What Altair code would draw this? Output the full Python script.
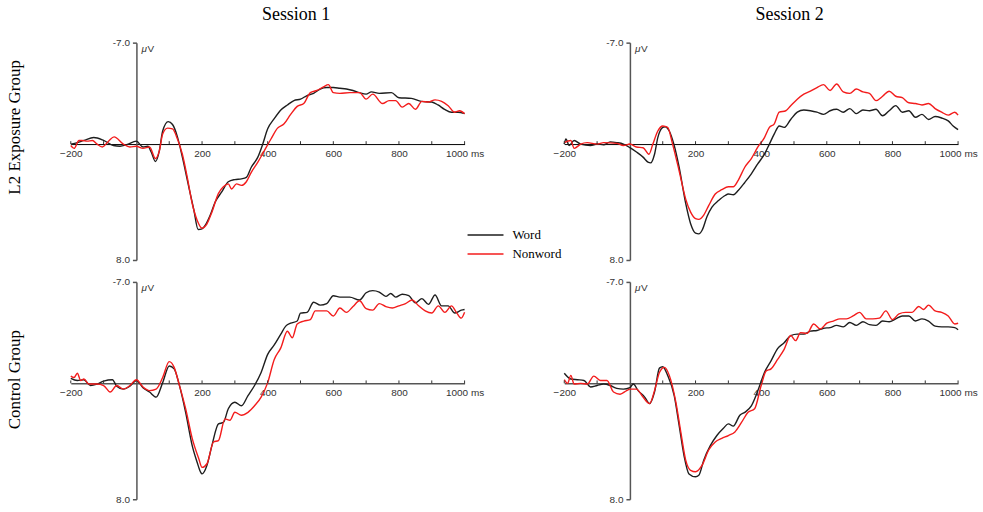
import altair as alt
import pandas as pd

# ERP grand averages: time (ms) vs amplitude (µV), negative plotted up
GROUPS = ["L2 Exposure Group", "Control Group"]
SESSIONS = ["Session 1", "Session 2"]
CONDITIONS = ["Word", "Nonword"]
COLORS = ["#1e1e1e", "#f31c1c"]

X_LABELS = [-200, 200, 400, 600, 800, 1000]
X_TICKS = [-200, -100, 100, 200, 300, 400, 500, 600, 700, 800, 900, 1000]
Y_LABELS = [-7.0, 8.0]
TICK_LEN_UV = -0.2  # tick marks rise slightly above the zero line

L2_S1_WORD = [
    (-200, 0.0), (-180, -0.1), (-160, -0.25), (-130, -0.45), (-100, -0.25), (-70, 0.1),
    (-50, 0.15), (-30, 0.05), (0, -0.2), (20, 0.2), (35, 0.15), (45, 0.55), (58, 1.2),
    (70, 0.45), (80, -0.9), (97, -1.55), (110, -1.35), (125, -0.5), (140, 0.9), (160, 3.0),
    (175, 4.55), (188, 5.9), (200, 5.85), (210, 5.6), (225, 4.9), (240, 4.0), (260, 3.3),
    (280, 2.6), (300, 2.45), (320, 2.4), (335, 2.3), (350, 1.6), (370, 0.9), (385, 0.0),
    (400, -1.05), (420, -1.75), (440, -2.35), (460, -2.7), (480, -3.0), (500, -3.1),
    (520, -3.35), (540, -3.5), (560, -3.8), (580, -3.9), (600, -3.9), (620, -3.85),
    (640, -3.8), (660, -3.7), (680, -3.55), (700, -3.45), (716, -3.6), (740, -3.5),
    (777, -3.55), (800, -3.2), (838, -3.15), (868, -2.95), (900, -2.9), (919, -2.7),
    (939, -2.4), (960, -2.2), (980, -2.2), (1000, -2.1),
]
L2_S1_NONWORD = [
    (-200, 0.1), (-190, 0.3), (-175, -0.25), (-165, -0.25), (-150, -0.2), (-134, -0.25),
    (-120, 0.0), (-104, 0.2), (-85, -0.2), (-68, -0.5), (-40, 0.0), (-20, 0.2), (0, 0.15),
    (20, 0.3), (40, 0.2), (58, 1.0), (70, 0.45), (80, -0.7), (95, -1.1), (110, -1.05),
    (125, -0.35), (140, 0.7), (155, 2.3), (170, 4.1), (185, 5.25), (200, 5.8), (215, 5.5),
    (230, 4.7), (250, 3.4), (265, 2.95), (280, 2.75), (290, 3.1), (305, 2.75), (320, 2.85),
    (335, 2.6), (350, 1.95), (370, 1.25), (390, 0.45), (410, -0.35), (430, -1.1),
    (450, -1.4), (470, -2.05), (490, -2.6), (510, -2.8), (530, -3.55), (550, -3.7),
    (570, -3.95), (585, -4.1), (600, -3.55), (620, -3.5), (650, -3.55), (680, -3.55),
    (700, -3.1), (720, -3.45), (750, -2.8), (770, -3.0), (790, -3.0), (810, -2.55),
    (830, -2.8), (850, -2.4), (870, -2.95), (890, -2.9), (910, -3.05), (930, -2.95),
    (950, -2.65), (970, -2.2), (985, -2.3), (1000, -2.1),
]
L2_S2_WORD = [
    (-200, 0.0), (-195, -0.35), (-185, 0.1), (-170, -0.25), (-150, 0.0), (-120, 0.1),
    (-100, 0.0), (-80, 0.05), (-60, -0.15), (-40, -0.1), (-20, 0.0), (0, 0.25), (20, 0.55),
    (40, 0.9), (55, 1.25), (63, 1.3), (75, 0.7), (85, -0.45), (100, -1.15), (107, -1.2),
    (120, -0.9), (135, 0.1), (150, 1.6), (170, 4.1), (185, 5.5), (200, 6.15), (210, 6.2),
    (220, 5.95), (235, 5.0), (250, 4.35), (270, 3.9), (290, 3.55), (300, 3.45), (315, 3.5),
    (330, 3.2), (350, 2.65), (370, 2.05), (390, 1.35), (410, 0.7), (425, 0.0), (440, -0.7),
    (455, -1.25), (470, -1.15), (490, -1.7), (510, -2.2), (530, -2.35), (550, -2.3),
    (570, -2.2), (590, -2.05), (610, -2.3), (630, -2.4), (650, -2.2), (670, -2.45),
    (690, -2.1), (710, -2.35), (730, -2.3), (750, -2.4), (770, -1.95), (790, -2.3),
    (810, -2.65), (830, -2.2), (850, -2.3), (870, -1.85), (890, -2.05), (910, -1.7),
    (930, -1.9), (950, -1.8), (970, -1.6), (985, -1.25), (1000, -1.0),
]
L2_S2_NONWORD = [
    (-200, -0.1), (-180, -0.25), (-170, 0.3), (-150, 0.0), (-130, -0.1), (-100, 0.0),
    (-80, -0.1), (-40, -0.05), (-20, 0.1), (0, 0.0), (20, 0.2), (40, 0.25), (58, 0.7),
    (70, 0.0), (85, -0.9), (100, -1.25), (115, -1.15), (130, 0.0), (150, 1.85), (170, 3.8),
    (185, 4.7), (200, 5.15), (210, 5.2), (225, 4.9), (240, 4.25), (260, 3.45), (280, 3.15),
    (300, 2.95), (315, 2.95), (330, 2.5), (350, 1.6), (370, 1.0), (390, 0.2), (410, -0.45),
    (425, -1.15), (440, -1.4), (455, -2.2), (475, -2.3), (490, -2.65), (510, -3.1),
    (530, -3.45), (550, -3.65), (570, -3.9), (590, -4.1), (610, -3.7), (630, -4.15),
    (650, -3.6), (670, -3.5), (690, -3.8), (710, -3.6), (730, -3.5), (750, -3.0),
    (770, -3.3), (790, -3.65), (810, -3.3), (830, -3.2), (850, -2.85), (870, -2.8),
    (890, -2.7), (910, -2.8), (930, -2.45), (950, -2.2), (970, -2.0), (990, -2.2),
    (1000, -2.0),
]
CT_S1_WORD = [
    (-200, -0.35), (-180, -0.2), (-160, -0.25), (-140, 0.15), (-120, 0.05), (-100, -0.15),
    (-73, -0.25), (-60, 0.2), (-40, 0.4), (-20, 0.2), (0, -0.2), (20, 0.3), (40, 0.6),
    (60, 0.95), (80, -0.05), (100, -1.2), (115, -1.0), (130, 0.05), (150, 2.0), (170, 4.3),
    (185, 5.45), (195, 6.1), (200, 6.25), (215, 5.65), (230, 4.3), (250, 2.8), (265, 2.7),
    (280, 1.75), (300, 1.3), (320, 1.55), (340, 0.85), (360, 0.15), (380, -0.75),
    (400, -2.0), (420, -2.65), (440, -3.4), (455, -3.95), (470, -4.15), (490, -4.3),
    (500, -4.85), (520, -4.9), (540, -5.6), (560, -5.4), (580, -5.5), (600, -6.05),
    (620, -5.95), (650, -5.95), (680, -5.75), (700, -6.25), (720, -6.4), (740, -6.3),
    (760, -6.0), (775, -6.2), (790, -5.95), (810, -6.15), (830, -6.05), (850, -5.55),
    (870, -5.85), (890, -5.45), (910, -6.1), (930, -5.35), (950, -5.35), (970, -4.85),
    (990, -5.05), (1000, -5.1),
]
CT_S1_NONWORD = [
    (-200, -0.5), (-190, -0.4), (-180, -0.7), (-170, -0.2), (-160, -0.3), (-145, 0.05),
    (-120, 0.05), (-100, 0.15), (-80, 0.6), (-60, 0.15), (-40, 0.4), (-20, 0.15),
    (0, -0.25), (20, 0.25), (40, 0.5), (60, 0.4), (80, -0.4), (100, -1.5), (115, -1.1),
    (130, 0.05), (150, 1.75), (170, 3.8), (190, 5.2), (200, 5.8), (215, 5.55), (235, 4.05),
    (250, 3.95), (270, 2.45), (285, 2.55), (300, 2.0), (320, 2.2), (340, 2.0), (360, 1.55),
    (380, 0.95), (400, -0.05), (420, -1.65), (440, -2.45), (460, -3.6), (475, -3.15),
    (490, -4.1), (510, -4.3), (530, -4.4), (545, -5.0), (560, -5.0), (580, -5.0),
    (600, -4.65), (620, -5.2), (640, -4.9), (660, -5.3), (680, -5.7), (700, -5.15),
    (720, -5.05), (740, -5.5), (760, -5.3), (780, -5.2), (800, -5.35), (820, -5.5),
    (840, -5.75), (860, -5.35), (880, -5.0), (900, -4.85), (920, -5.35), (940, -4.9),
    (960, -5.35), (975, -4.9), (990, -4.5), (1000, -4.9),
]
CT_S2_WORD = [
    (-200, -0.7), (-180, -0.3), (-160, -0.25), (-140, -0.2), (-120, 0.25), (-100, 0.15),
    (-80, 0.05), (-60, 0.15), (-40, 0.35), (-20, 0.4), (0, 0.3), (10, 0.05), (25, 0.5),
    (45, 0.95), (60, 1.4), (75, 0.6), (90, -1.05), (100, -1.15), (115, -0.55), (135, 0.85),
    (150, 2.9), (165, 5.0), (180, 6.25), (200, 6.45), (210, 6.35), (225, 5.3), (245, 4.3),
    (265, 3.6), (285, 3.1), (300, 2.8), (315, 2.95), (335, 2.2), (350, 2.0), (370, 1.55),
    (390, 0.5), (410, -0.75), (430, -1.55), (450, -2.4), (470, -2.8), (490, -3.3),
    (510, -3.4), (530, -3.4), (550, -3.6), (570, -3.65), (590, -3.8), (610, -3.85),
    (630, -4.0), (650, -3.9), (670, -4.2), (690, -4.0), (710, -4.25), (730, -4.05),
    (750, -4.0), (770, -4.3), (790, -4.25), (810, -4.45), (830, -4.65), (850, -4.65),
    (870, -4.3), (890, -4.45), (910, -4.3), (930, -3.95), (950, -3.9), (970, -3.9),
    (990, -3.85), (1000, -3.7),
]
CT_S2_NONWORD = [
    (-200, -0.25), (-190, 0.0), (-180, -0.55), (-170, 0.05), (-150, 0.0), (-130, 0.05),
    (-110, -0.5), (-90, -0.2), (-70, -0.2), (-50, 0.6), (-30, 0.75), (-10, 0.5), (0, 0.4),
    (20, 0.4), (40, 0.95), (60, 1.4), (75, 0.5), (90, -0.75), (105, -1.1), (120, -0.55),
    (140, 1.3), (155, 3.35), (170, 5.3), (185, 6.0), (200, 6.1), (220, 5.65), (240, 4.6),
    (260, 4.05), (280, 3.8), (300, 3.6), (320, 3.35), (340, 2.7), (360, 2.0), (380, 1.75),
    (400, 0.15), (415, -0.85), (430, -1.0), (450, -1.65), (470, -2.35), (490, -3.3),
    (505, -2.95), (520, -3.5), (540, -3.45), (560, -4.1), (580, -3.75), (600, -4.15),
    (620, -4.3), (640, -4.45), (660, -4.45), (680, -4.65), (700, -4.9), (720, -4.45),
    (740, -4.45), (760, -4.5), (780, -5.0), (800, -4.4), (820, -4.8), (840, -4.9),
    (860, -4.9), (880, -5.3), (895, -5.1), (910, -5.4), (930, -5.0), (950, -4.9),
    (970, -4.65), (990, -4.1), (1000, -4.15),
]

SERIES = {
    ("L2 Exposure Group", "Session 1", "Word"): L2_S1_WORD,
    ("L2 Exposure Group", "Session 1", "Nonword"): L2_S1_NONWORD,
    ("L2 Exposure Group", "Session 2", "Word"): L2_S2_WORD,
    ("L2 Exposure Group", "Session 2", "Nonword"): L2_S2_NONWORD,
    ("Control Group", "Session 1", "Word"): CT_S1_WORD,
    ("Control Group", "Session 1", "Nonword"): CT_S1_NONWORD,
    ("Control Group", "Session 2", "Word"): CT_S2_WORD,
    ("Control Group", "Session 2", "Nonword"): CT_S2_NONWORD,
}

rows = []
for (group, session, cond), pts in SERIES.items():
    for t, v in pts:
        rows.append({"group": group, "session": session, "cond": cond, "t": t, "v": v})
df = pd.DataFrame(rows)
ticks_df = pd.DataFrame({"t": X_TICKS, "v": [0.0] * len(X_TICKS), "v2": [TICK_LEN_UV] * len(X_TICKS)})

PANEL_W, PANEL_H = 395, 218
T_MIN, T_MAX = -200, 1000
V_MIN, V_MAX = -7.0, 8.0
ZERO_Y = PANEL_H * (0 - V_MIN) / (V_MAX - V_MIN)
ZERO_X = PANEL_W * (0 - T_MIN) / (T_MAX - T_MIN)

SANS = "Liberation Sans"
SERIF = "Liberation Serif"

x_scale = alt.Scale(domain=[T_MIN, T_MAX], nice=False, zero=False)
y_scale = alt.Scale(domain=[V_MIN, V_MAX], reverse=True, nice=False, zero=False)

# axes pulled in from the plot edges so they cross at (0 ms, 0 µV);
# one definition per channel, shared by every layer so they merge cleanly
x_axis = alt.Axis(
    orient="bottom", offset=-(PANEL_H - ZERO_Y), values=X_LABELS, ticks=False, grid=False,
    title=None, domainColor="black", domainWidth=1,
    labelExpr="datum.value == 1000 ? '1000 ms' : datum.label",
    labelFlush=False, labelOverlap=False, labelBound=False,
    labelFont=SANS, labelFontSize=10, labelColor="#333", labelPadding=4,
)
y_axis = alt.Axis(
    orient="left", offset=-ZERO_X, values=Y_LABELS, format=".1f", grid=False,
    title=None, domainColor="#555", domainWidth=1.5, tickColor="#555",
    tickWidth=1.5, tickSize=4, labelFont=SANS, labelFontSize=10,
    labelColor="#333", labelPadding=3, labelFlush=False, labelOverlap=False,
    labelExpr="replace(datum.label, '\u2212', '-')",
)

legend = alt.Legend(
    orient="none", legendX=397, legendY=186, title=None, padding=0,
    symbolType="stroke", symbolSize=1300, symbolStrokeWidth=1.5, clipHeight=14,
    rowPadding=5, labelFont=SERIF, labelFontSize=13, labelColor="black", labelOffset=8,
)


def xy(x_field="t:Q", y_field="v:Q"):
    return dict(
        x=alt.X(x_field, scale=x_scale, axis=x_axis),
        y=alt.Y(y_field, scale=y_scale, axis=y_axis),
    )


def panel(group, session, col_title=None, row_title=None, row_title_y=None):
    lines = alt.Chart(df).transform_filter(
        (alt.datum.group == group) & (alt.datum.session == session)
    ).mark_line(interpolate="monotone", strokeWidth=1.4).encode(
        **xy(),
        color=alt.Color("cond:N", scale=alt.Scale(domain=CONDITIONS, range=COLORS), legend=legend),
        order=alt.Order("t:Q"),
    )

    ticks = alt.Chart(ticks_df).mark_rule(color="#333", strokeWidth=1).encode(
        **xy(), y2="v2:Q",
    )

    unit_df = pd.DataFrame({"t": [0], "v": [V_MIN]})
    mu = alt.Chart(unit_df).mark_text(
        text="\u03bc", font=SANS, fontSize=10, fontStyle="italic", align="left",
        baseline="middle", dx=5, dy=6, color="#333",
    ).encode(**xy())
    volt = alt.Chart(unit_df).mark_text(
        text="V", font=SANS, fontSize=10, align="left", baseline="middle",
        dx=11, dy=6, color="#333",
    ).encode(**xy())

    layers = [lines, ticks, mu, volt]
    if col_title:
        layers.append(
            alt.Chart(pd.DataFrame({"label": [col_title]})).mark_text(
                font=SERIF, fontSize=18, color="black", baseline="middle",
            ).encode(text="label:N", x=alt.value(226), y=alt.value(-28))
        )
    if row_title:
        layers.append(
            alt.Chart(pd.DataFrame({"label": [row_title]})).mark_text(
                font=SERIF, fontSize=17, color="black", angle=270, baseline="middle",
            ).encode(text="label:N", x=alt.value(-56), y=alt.value(row_title_y))
        )
    return alt.layer(*layers).properties(width=PANEL_W, height=PANEL_H)


chart = alt.concat(
    panel("L2 Exposure Group", "Session 1", col_title="Session 1",
          row_title="L2 Exposure Group", row_title_y=PANEL_H / 2 - 24),
    panel("L2 Exposure Group", "Session 2", col_title="Session 2"),
    panel("Control Group", "Session 1", row_title="Control Group", row_title_y=PANEL_H / 2 - 11),
    panel("Control Group", "Session 2"),
    columns=2, spacing={"row": 22, "column": 100}, bounds="flush",
).properties(
    padding={"left": 6, "top": 5, "right": 5, "bottom": 5},
    background="white",
).configure_view(stroke=None)

chart.save("out.html", embed_options={"renderer": "svg", "actions": False})
